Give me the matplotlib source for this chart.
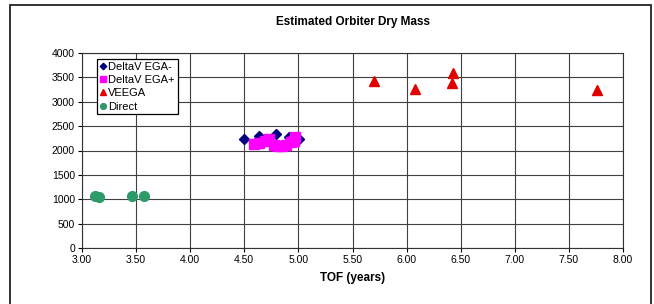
import matplotlib.pyplot as plt
from matplotlib.patches import Rectangle

plt.rcParams['font.family'] = ['Liberation Sans', 'DejaVu Sans']

# data
ega_minus_tof = [4.50, 4.64, 4.79, 4.91, 5.01]
ega_minus_mass = [2240, 2300, 2330, 2275, 2240]

ega_plus_tof = [4.59, 4.64, 4.69, 4.73, 4.77, 4.81, 4.85, 4.89, 4.93, 4.96, 4.97]
ega_plus_mass = [2130, 2150, 2190, 2230, 2110, 2100, 2090, 2110, 2180, 2200, 2275]

veega_tof = [5.70, 6.08, 6.42, 6.43, 7.76]
veega_mass = [3425, 3255, 3380, 3600, 3240]

direct_tof = [3.12, 3.16, 3.46, 3.57]
direct_mass = [1070, 1055, 1060, 1060]

xticks = [3.0, 3.5, 4.0, 4.5, 5.0, 5.5, 6.0, 6.5, 7.0, 7.5, 8.0]
yticks = [0, 500, 1000, 1500, 2000, 2500, 3000, 3500, 4000]

W, H = 654, 304
fig = plt.figure(figsize=(W / 100, H / 100), dpi=100)
ax = fig.add_axes([82 / W, 1 - 248 / H, (623 - 82) / W, (248 - 53) / H])

# outer chart border
fig.patches.append(Rectangle((10 / W, -0.05), (651 - 10) / W, 1.05 - 5 / H,
                             transform=fig.transFigure, fill=False,
                             edgecolor='#222222', linewidth=1.3))

ax.plot(ega_minus_tof, ega_minus_mass, linestyle='none', marker='D',
        markersize=5.5, color='#000080', label='DeltaV EGA-')
ax.plot(ega_plus_tof, ega_plus_mass, linestyle='none', marker='s',
        markersize=7.5, color='#FF00FF', label='DeltaV EGA+')
ax.plot(veega_tof, veega_mass, linestyle='none', marker='^',
        markersize=7.5, color='#E00000', label='VEEGA')
ax.plot(direct_tof, direct_mass, linestyle='none', marker='o',
        markersize=7, color='#2E9A6A', label='Direct')

ax.set_xlim(3, 8)
ax.set_ylim(0, 4000)
ax.set_xticks(xticks)
ax.set_xticklabels(['%.2f' % t for t in xticks])
ax.set_yticks(yticks)
ax.tick_params(labelsize=7.5, length=3, width=0.8, direction='out', pad=2)
ax.grid(True, color='#404040', linewidth=0.8)
ax.set_axisbelow(True)
for s in ax.spines.values():
    s.set_color('#333333')
    s.set_linewidth(0.8)

ax.set_title('Estimated Orbiter Dry Mass', fontsize=8.5, fontweight='bold', pad=20)
ax.set_xlabel('TOF (years)', fontsize=8.5, fontweight='bold', labelpad=5)

leg = ax.legend(loc='upper left', bbox_to_anchor=(0.028, 0.97), borderaxespad=0,
                fontsize=8, fancybox=False, framealpha=1, edgecolor='black',
                handlelength=0.5, handletextpad=0.25, borderpad=0.25,
                labelspacing=0.3, markerscale=0.6)
leg.get_frame().set_linewidth(0.9)

fig.savefig('out.png', dpi=100)
